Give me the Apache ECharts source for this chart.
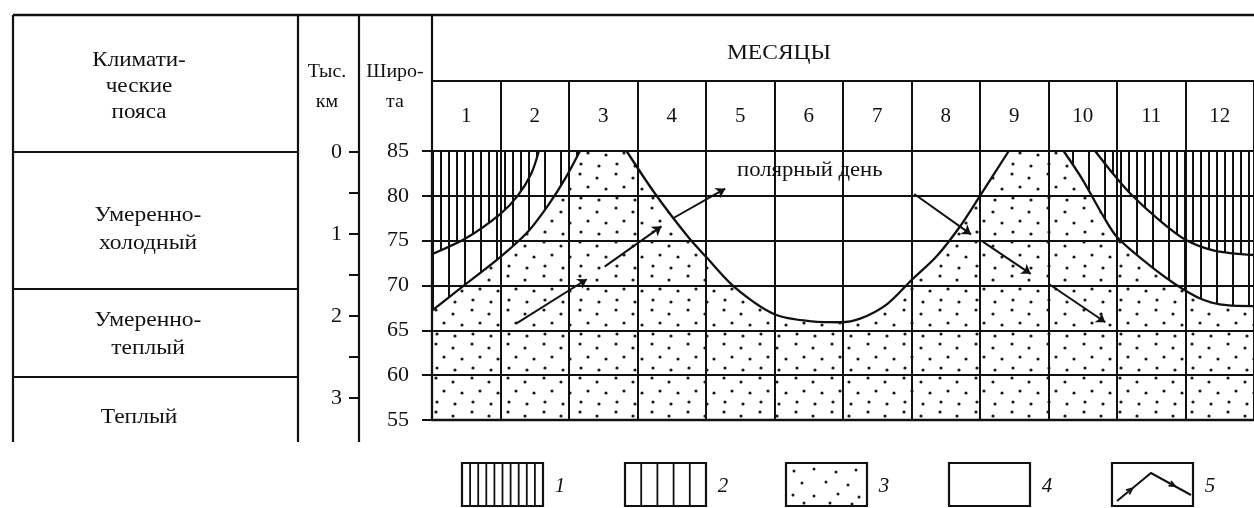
<!DOCTYPE html>
<html><head><meta charset="utf-8">
<script src="https://cdn.jsdelivr.net/npm/echarts@6/dist/echarts.min.js"></script>
<style>html,body{margin:0;padding:0;background:#fff}#c{width:1254px;height:508px}</style>
</head><body><div id="c"></div>
<script>
// ---------- data ----------
const months = ['1','2','3','4','5','6','7','8','9','10','11','12'];
const zoneNames = ['Умеренно-\nхолодный','Умеренно-\nтеплый','Теплый'];
const latMin = 55, latMax = 85, latStep = 5;
const kmMin = 0, kmMax = 3, kmStep = 0.5;
const legendLabels = ['1','2','3','4','5'];
const dayLabel = 'полярный день';

// zone 1 boundary (dense hatching above)  [month, latitude]
const zone1Left  = [[0,73.5],[0.5,75.3],[1,78.0],[1.25,80.0],[1.45,82.5],[1.56,85]];
const zone1Right = [[9.68,85],[9.97,82.2],[10.2,80.2],[10.6,77.4],[11,75.1],[11.42,73.9],[12,73.4]];
// zone 2 boundary (sparse hatching above)
const zone2Left  = [[0,67.2],[0.5,70.2],[1,73.2],[1.4,76.0],[1.7,79.0],[1.95,82.0],[2.16,85]];
const zone2Right = [[9.22,85],[9.49,81.9],[9.78,78],[10,75.4],[10.45,72.4],[10.84,70.2],[11.23,68.5],[11.6,67.8],[12,67.7]];
// zone 4 boundary (polar day, blank above)
const zone4 = [[2.84,85],[3.26,80.2],[3.74,75.4],[4,73.2],[4.42,69.8],[5,66.8],[5.55,66.0],[5.96,65.9],[6.25,66.3],[6.64,67.9],[7,70.6],[7.36,73.2],[7.7,76.5],[8,80],[8.42,85]];
// zone 3 extent (dots)
const zone3 = [[0,85],[12,85]];
// arrows (segments)
const arrowRise = [[[1.24,65.8],[2.26,70.7]],[[2.52,72.1],[3.35,76.6]],[[3.52,77.5],[4.28,80.8]]];
const arrowFall = [[[7.04,80.2],[7.87,75.7]],[[8.04,74.9],[8.74,71.3]],[[9.0,70.2],[9.83,65.9]]];

// ---------- patterns ----------
function makePat(w,h,draw){const c=document.createElement('canvas');c.width=w;c.height=h;const g=c.getContext('2d');g.fillStyle='#fff';g.fillRect(0,0,w,h);draw(g);return c;}
const densePat = makePat(8,8,g=>{g.fillStyle='#111';g.fillRect(0,0,2,8);});
const sparsePat = makePat(16,16,g=>{g.fillStyle='#111';g.fillRect(0,0,2,16);});
const dotPts = [[4,4],[21,8],[12,17],[30,19],[5,28],[23,30]];
const dotPat = makePat(36,34,g=>{g.fillStyle='#1a1a1a';dotPts.forEach(([x,y])=>{g.beginPath();g.arc(x,y,1.6,0,7);g.fill();});});

const FONT = 'Liberation Serif';
const INK = '#111';
const chart = echarts.init(document.getElementById('c'), null, {renderer:'canvas'});

function areaSeries(data, pat, z){
  return {type:'line', xAxisIndex:0, yAxisIndex:0, data, smooth:0.3, symbol:'none', silent:true,
    lineStyle:{width:0, opacity:0}, areaStyle:{color: typeof pat==='string'?pat:{image:pat, repeat:'repeat'}, opacity:1, origin:'end'}, z};
}
function curveSeries(data){
  return {type:'line', xAxisIndex:0, yAxisIndex:0, data, smooth:0.3, symbol:'none', silent:true,
    lineStyle:{width:2.3, color:INK}, z:7};
}

// ---------- graphic (table frame, texts, legend) ----------
const G = [];
function ln(x1,y1,x2,y2,w){G.push({type:'line', shape:{x1,y1,x2,y2}, style:{stroke:INK, lineWidth:w||2.2}, z:20});}
function tx(text,x,y,size,opt){opt=opt||{};G.push({type:'text', z:20, x, y, scaleX:opt.sx||1,
  style:{text, x:0, y:0, fill:INK, font:(opt.italic?'italic ':'')+size+'px "'+FONT+'"',
  align:opt.align||'center', verticalAlign:'middle', textAlign:opt.align||'center', textVerticalAlign:'middle', lineHeight:opt.lh||size*1.25}});}
ln(13,15,1254,15,2.6);
ln(13,15,13,442); ln(298,15,298,442); ln(359,15,359,442); ln(432,15,432,151);
ln(432,81,1254,81);
ln(13,152,298,152); ln(13,289,298,289); ln(13,377,298,377);
tx('Климати-\nческие\nпояса',139,86,21,{lh:26,sx:1.1});
tx(zoneNames[0],148,229,21,{lh:28,sx:1.12});
tx(zoneNames[1],148,334,21,{lh:28,sx:1.12});
tx(zoneNames[2],139,417,21,{lh:28,sx:1.12});
tx('Тыс.\nкм',327,87,19,{lh:30,sx:1.05});
tx('Широ-\nта',395,87,19,{lh:30,sx:1.05});
tx('МЕСЯЦЫ',779,53,21,{sx:1.12});
tx(dayLabel,737,170,21,{align:'left',sx:1.08});
// legend
const lgX = [462,625,786,949,1112], lgY = 463, lgW = 81, lgH = 43;
lgX.forEach((x,i)=>{
  G.push({type:'rect', shape:{x, y:lgY, width:lgW, height:lgH}, style:{fill:'#fff', stroke:INK, lineWidth:2.2}, z:20});
  tx(legendLabels[i], x+lgW+17, 486, 21, {italic:true});
});
for(let k=1;k<10;k++) ln(lgX[0]+k*8.1, lgY, lgX[0]+k*8.1, lgY+lgH, 1.8);
for(let k=1;k<5;k++) ln(lgX[1]+k*16.2, lgY, lgX[1]+k*16.2, lgY+lgH, 1.8);
[[8,8],[28,6],[50,9],[70,7],[16,20],[40,19],[62,22],[7,32],[28,33],[52,31],[73,34],[18,40],[44,40],[66,41]].forEach(([dx,dy])=>{
  G.push({type:'circle', shape:{cx:lgX[2]+dx, cy:lgY+dy, r:1.5}, style:{fill:'#1a1a1a'}, z:21});
});
const p0=[lgX[4]+5,lgY+38], p1=[lgX[4]+39,lgY+10], p2=[lgX[4]+79,lgY+32];
G.push({type:'polyline', shape:{points:[p0,p1,p2]}, style:{stroke:INK, fill:null, lineWidth:2}, z:21});
function head(a,b,t){const hx=a[0]+(b[0]-a[0])*t, hy=a[1]+(b[1]-a[1])*t; const dx=b[0]-a[0], dy=b[1]-a[1]; const L=Math.hypot(dx,dy); const ux=dx/L, uy=dy/L; const s=6;
  const l=[hx-ux*s-uy*s*0.45, hy-uy*s+ux*s*0.45], r=[hx-ux*s+uy*s*0.45, hy-uy*s-ux*s*0.45];
  G.push({type:'polyline', shape:{points:[l,[hx,hy],r]}, style:{stroke:INK, fill:null, lineWidth:1.8}, z:21});}
head(p0,p1,0.45); head(p1,p2,0.6);

const option = {
  animation:false,
  backgroundColor:'#fff',
  textStyle:{fontFamily:FONT, color:INK},
  grid:[
    {left:432, top:151, width:828, height:269},
    {left:432, top:81, width:828, height:70},
    {left:359, top:152, width:10, height:246}
  ],
  xAxis:[
    {gridIndex:0, type:'value', min:0, max:12, interval:1, z:5,
      axisLine:{show:true, lineStyle:{color:INK, width:2.3}}, axisTick:{show:false}, axisLabel:{show:false},
      splitLine:{show:true, lineStyle:{color:INK, width:2}}},
    {gridIndex:1, type:'category', data:months, boundaryGap:true, position:'bottom', z:5,
      axisLine:{show:false}, axisTick:{show:false},
      axisLabel:{inside:true, margin:35, verticalAlign:'middle', fontSize:21, color:INK, fontFamily:FONT},
      splitLine:{show:true, lineStyle:{color:INK, width:2}}},
    {gridIndex:2, type:'value', show:false, min:0, max:1}
  ],
  yAxis:[
    {gridIndex:0, type:'value', min:latMin, max:latMax, interval:latStep, z:5,
      axisLine:{show:true, lineStyle:{color:INK, width:2.3}},
      axisTick:{show:true, length:10, lineStyle:{color:INK, width:2}},
      axisLabel:{fontSize:22, margin:23, color:INK, fontFamily:FONT},
      splitLine:{show:true, lineStyle:{color:INK, width:2}}},
    {gridIndex:1, type:'value', show:false, min:0, max:1},
    {gridIndex:2, type:'value', min:kmMin, max:kmMax, interval:kmStep, inverse:true, position:'left',
      axisLine:{show:false}, axisTick:{show:true, length:10, lineStyle:{color:INK, width:2}},
      axisLabel:{fontSize:22, margin:17, color:INK, fontFamily:FONT, formatter:v=>Number.isInteger(v)?String(v):''},
      splitLine:{show:false}}
  ],
  series:[
    Object.assign(areaSeries(zone3, dotPat, 1), {areaStyle:{color:{image:dotPat, repeat:'repeat'}, opacity:1, origin:'start'}}),
    areaSeries(zone4, '#fff', 2),
    areaSeries(zone2Left, sparsePat, 3),
    areaSeries(zone2Right, sparsePat, 3),
    areaSeries(zone1Left, densePat, 4),
    areaSeries(zone1Right, densePat, 4),
    curveSeries(zone4), curveSeries(zone2Left), curveSeries(zone2Right), curveSeries(zone1Left), curveSeries(zone1Right),
    {type:'lines', coordinateSystem:'cartesian2d', xAxisIndex:0, yAxisIndex:0, silent:true, z:8,
      symbol:['none','arrow'], symbolSize:[0,9], lineStyle:{color:INK, width:2, opacity:1},
      data: arrowRise.concat(arrowFall).map(s=>({coords:s}))}
  ],
  graphic:{elements:G}
};
chart.setOption(option);
</script></body></html>
